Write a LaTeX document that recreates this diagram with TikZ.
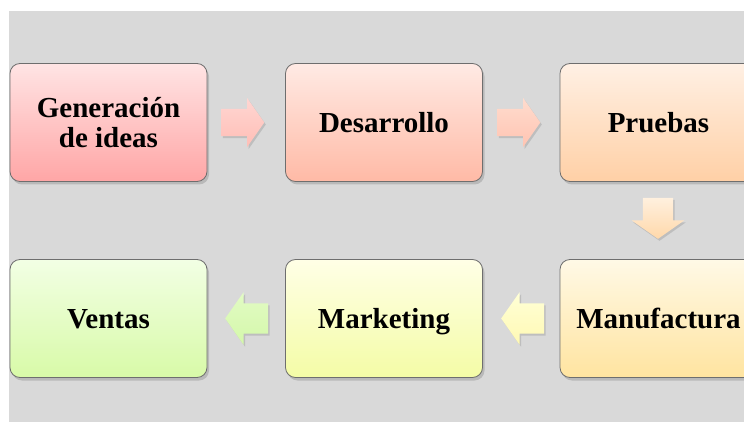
\documentclass[tikz,border=0pt]{standalone}
\usepackage{fontspec}
\setmainfont{Liberation Serif}
\usetikzlibrary{shapes.arrows,shadows}
\tikzset{>=stealth}

\definecolor{bggray}{HTML}{D9D9D9}
\definecolor{edgegray}{HTML}{6E6E6E}

\tikzset{
  etapa/.style={draw=edgegray,line width=.8pt,rounded corners=10pt,
    minimum width=197pt,minimum height=118pt,align=center,
    font=\fontsize{29}{30}\selectfont\bfseries,
    drop shadow={shadow xshift=2pt,shadow yshift=-3pt,opacity=.35}},
  unalinea/.style={text height=19.5pt,text depth=0pt},
  flecha/.style={single arrow,draw=none,inner xsep=0pt,inner ysep=13.5pt,
    minimum height=43pt,minimum width=49pt,
    single arrow head extend=11pt,single arrow tip angle=110,
    drop shadow={shadow xshift=1.5pt,shadow yshift=-2pt,opacity=.3}}
}

\begin{document}
\begin{tikzpicture}[x=1pt,y=-1pt]
\useasboundingbox (0,0) rectangle (744,422);
\clip (0,0) rectangle (744,422);
\fill[white] (0,0) rectangle (744,422);
\fill[bggray] (9,11) rectangle (744,422);

% etapas
\node[etapa,top color={rgb,255:red,255;green,228;blue,228},
  bottom color={rgb,255:red,255;green,166;blue,166}]
  (gen) at (108.5,122.5) {Generaci\'on\\de ideas};
\node[etapa,unalinea,top color={rgb,255:red,255;green,234;blue,228},
  bottom color={rgb,255:red,255;green,186;blue,166}]
  (des) at (384,122.5) {Desarrollo};
\node[etapa,unalinea,top color={rgb,255:red,255;green,240;blue,228},
  bottom color={rgb,255:red,255;green,208;blue,166}]
  (pru) at (658.5,122.5) {Pruebas};
\node[etapa,unalinea,top color={rgb,255:red,255;green,249;blue,230},
  bottom color={rgb,255:red,255;green,228;blue,160}]
  (man) at (658.5,318.5) {Manufactura};
\node[etapa,unalinea,top color={rgb,255:red,255;green,255;blue,230},
  bottom color={rgb,255:red,244;green,252;blue,166}]
  (mar) at (384,318.5) {Marketing};
\node[etapa,unalinea,top color={rgb,255:red,242;green,255;blue,228},
  bottom color={rgb,255:red,216;green,250;blue,168}]
  (ven) at (108.5,318.5) {Ventas};

% flechas
\node[flecha,top color={rgb,255:red,255;green,214;blue,210},
  bottom color={rgb,255:red,255;green,190;blue,182}]
  (f1) at (238,122.5) {};
\node[flecha,top color={rgb,255:red,255;green,220;blue,206},
  bottom color={rgb,255:red,255;green,196;blue,178}]
  (f2) at (514,122.5) {};
\node[flecha,shape border rotate=270,inner xsep=15pt,inner ysep=0pt,
  minimum height=41pt,
  top color={rgb,255:red,255;green,240;blue,222},
  bottom color={rgb,255:red,255;green,216;blue,170}]
  (f3) at (658,213) {};
\node[flecha,shape border rotate=180,inner ysep=15pt,
  top color={rgb,255:red,255;green,255;blue,214},
  bottom color={rgb,255:red,255;green,249;blue,180}]
  (f4) at (528,318.5) {};
\node[flecha,shape border rotate=180,inner ysep=15pt,
  top color={rgb,255:red,226;green,251;blue,196},
  bottom color={rgb,255:red,212;green,248;blue,170}]
  (f5) at (252,318.5) {};
\end{tikzpicture}
\end{document}
